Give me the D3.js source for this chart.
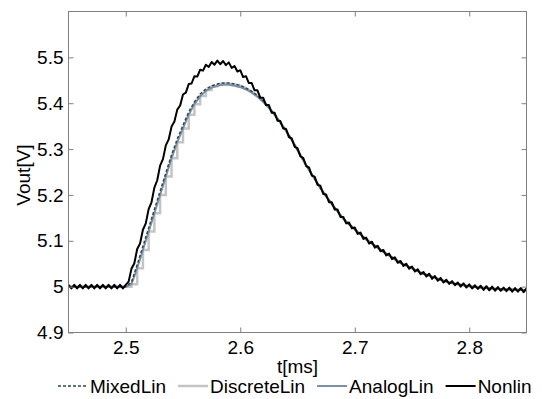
<!DOCTYPE html>
<html>
<head>
<meta charset="utf-8">
<script src="https://cdn.jsdelivr.net/npm/d3@7"></script>
<style>
  html, body { margin: 0; padding: 0; background: #fff; }
  svg text { font-family: "Liberation Sans", Arial, sans-serif; fill: #000; }
</style>
</head>
<body>
<div id="chart"></div>
<script>
// Vout step response, time in ms
const tStart = 2.45;
const linStep = 0.005;     // sampling of the linear models
const nonlinStep = 0.0025; // sampling of the nonlinear model
const stairEnd = 2.58;     // discrete stairs only visible on the rising edge

const xTicks = [2.5, 2.6, 2.7, 2.8];
const xTickLabels = ['2.5', '2.6', '2.7', '2.8'];
const yTicks = [4.9, 5.0, 5.1, 5.2, 5.3, 5.4, 5.5];
const yTickLabels = ['4.9', '5', '5.1', '5.2', '5.3', '5.4', '5.5'];

const seriesNames = ['MixedLin', 'DiscreteLin', 'AnalogLin', 'Nonlin'];

const analogLin = [
  5.0, 5.0, 5.0, 5.0, 5.0, 5.0, 5.0, 5.0, 5.0, 5.0, 5.0,
  5.005, 5.04, 5.08, 5.12, 5.16, 5.2, 5.24, 5.28, 5.315, 5.345,
  5.375, 5.398, 5.415, 5.427, 5.434, 5.438, 5.44, 5.44, 5.438, 5.435,
  5.43, 5.423, 5.414, 5.403, 5.39, 5.375, 5.358, 5.34, 5.32, 5.298,
  5.276, 5.255, 5.235, 5.215, 5.197, 5.18, 5.164, 5.148, 5.136, 5.125,
  5.114, 5.103, 5.094, 5.085, 5.076, 5.068, 5.06, 5.052, 5.046, 5.04,
  5.034, 5.028, 5.024, 5.019, 5.015, 5.011, 5.008, 5.005, 5.003, 5.001,
  4.999, 4.998, 4.997, 4.996, 4.995, 4.994, 4.994, 4.993, 4.993, 4.992
];

const discreteLin = [
  5.0, 5.0, 5.0, 5.0, 5.0, 5.0, 5.0, 5.0, 5.0, 5.0, 5.0,
  5.005, 5.04, 5.08, 5.12, 5.16, 5.2, 5.24, 5.28, 5.315, 5.345,
  5.375, 5.398, 5.416, 5.429, 5.437, 5.441, 5.443, 5.443, 5.441, 5.438,
  5.433, 5.425, 5.415, 5.404, 5.39, 5.375, 5.358, 5.34, 5.32, 5.298,
  5.276, 5.255, 5.235, 5.215, 5.197, 5.18, 5.164, 5.148, 5.136, 5.125,
  5.114, 5.103, 5.094, 5.085, 5.076, 5.068, 5.06, 5.052, 5.046, 5.04,
  5.034, 5.028, 5.024, 5.019, 5.015, 5.011, 5.008, 5.005, 5.003, 5.001,
  4.999, 4.998, 4.997, 4.996, 4.995, 4.994, 4.994, 4.993, 4.993, 4.992
];

const mixedLin = [
  5.0, 5.0, 5.0, 5.0, 5.0, 5.0, 5.0, 5.0, 5.0, 5.0, 5.0,
  5.01, 5.048, 5.088, 5.128, 5.168, 5.208, 5.248, 5.287, 5.322, 5.352,
  5.381, 5.403, 5.42, 5.431, 5.438, 5.442, 5.444, 5.444, 5.442, 5.439,
  5.433, 5.426, 5.417, 5.405, 5.391, 5.376, 5.358, 5.34, 5.32, 5.298,
  5.276, 5.255, 5.235, 5.215, 5.197, 5.18, 5.164, 5.148, 5.136, 5.125,
  5.114, 5.103, 5.094, 5.085, 5.076, 5.068, 5.06, 5.052, 5.046, 5.04,
  5.034, 5.028, 5.024, 5.019, 5.015, 5.011, 5.008, 5.005, 5.003, 5.001,
  4.999, 4.998, 4.997, 4.996, 4.995, 4.994, 4.994, 4.993, 4.993, 4.992
];

const nonlin = [
  5.004, 4.996, 5.004, 4.996, 5.004, 4.996, 5.004, 4.996, 5.004, 4.996,
  5.004, 4.996, 5.004, 4.996, 5.004, 4.996, 5.004, 4.996, 5.004, 4.996,
  5.004, 5.011, 5.039, 5.051, 5.082, 5.094, 5.124, 5.138, 5.169, 5.184,
  5.216, 5.232, 5.264, 5.278, 5.308, 5.321, 5.349, 5.36, 5.386, 5.395,
  5.419, 5.423, 5.442, 5.443, 5.459, 5.458, 5.473, 5.471, 5.484, 5.479,
  5.49, 5.484, 5.493, 5.485, 5.492, 5.483, 5.489, 5.477, 5.481, 5.469,
  5.472, 5.457, 5.459, 5.444, 5.444, 5.428, 5.428, 5.412, 5.412, 5.396,
  5.396, 5.379, 5.379, 5.362, 5.361, 5.345, 5.344, 5.326, 5.323, 5.305,
  5.302, 5.284, 5.281, 5.263, 5.26, 5.242, 5.24, 5.222, 5.22, 5.202,
  5.201, 5.184, 5.184, 5.168, 5.168, 5.152, 5.152, 5.138, 5.14, 5.127,
  5.129, 5.115, 5.118, 5.104, 5.107, 5.094, 5.098, 5.085, 5.089, 5.077,
  5.08, 5.068, 5.072, 5.06, 5.064, 5.052, 5.056, 5.045, 5.05, 5.039,
  5.044, 5.033, 5.038, 5.027, 5.032, 5.022, 5.028, 5.017, 5.023, 5.013,
  5.019, 5.009, 5.015, 5.006, 5.012, 5.003, 5.009, 5.0, 5.007, 4.998,
  5.005, 4.996, 5.003, 4.995, 5.002, 4.993, 5.001, 4.992, 5.0, 4.991,
  4.999, 4.991, 4.998, 4.99, 4.998, 4.989, 4.997, 4.989, 4.997, 4.988,
  4.996
];

const width = 542;
const height = 399;
const plot = { left: 68.5, right: 526.5, top: 11.5, bottom: 332.5 };
const axisColor = '#808080';

const svg = d3.select('#chart').append('svg')
  .attr('width', width)
  .attr('height', height);

const x = d3.scaleLinear().domain([2.45, 2.85]).range([plot.left, plot.right]);
const y = d3.scaleLinear().domain([4.9, 5.6]).range([plot.bottom, plot.top]);

// clip the curves to the axes box
svg.append('clipPath').attr('id', 'clip')
  .append('rect')
  .attr('x', plot.left).attr('y', plot.top)
  .attr('width', plot.right - plot.left)
  .attr('height', plot.bottom - plot.top);

const toPoints = (vals, step) => vals.map((v, i) => [tStart + i * step, v]);

const lineSmooth = d3.line().x(d => x(d[0])).y(d => y(d[1]));
const lineStep = d3.line().x(d => x(d[0])).y(d => y(d[1])).curve(d3.curveStepAfter);

const curves = svg.append('g').attr('clip-path', 'url(#clip)');

// discrete model: zero-order hold on the rising edge, then smooth
const discretePts = toPoints(discreteLin, linStep);
const discreteRise = discretePts.filter(d => d[0] <= stairEnd + 1e-9);
const discreteTail = discretePts.filter(d => d[0] >= stairEnd - 1e-9);

curves.append('path')
  .attr('d', lineStep(discreteRise))
  .attr('fill', 'none')
  .attr('stroke', '#c4c4c4')
  .attr('stroke-width', 2.5);

curves.append('path')
  .attr('d', lineSmooth(discreteTail))
  .attr('fill', 'none')
  .attr('stroke', '#c4c4c4')
  .attr('stroke-width', 2.5);

curves.append('path')
  .attr('d', lineSmooth(toPoints(analogLin, linStep)))
  .attr('fill', 'none')
  .attr('stroke', '#7d8fa3')
  .attr('stroke-width', 2);

curves.append('path')
  .attr('d', lineSmooth(toPoints(mixedLin, linStep)))
  .attr('fill', 'none')
  .attr('stroke', '#2c4a55')
  .attr('stroke-width', 1.5)
  .attr('stroke-dasharray', '3,2');

curves.append('path')
  .attr('d', lineSmooth(toPoints(nonlin, nonlinStep)))
  .attr('fill', 'none')
  .attr('stroke', '#000')
  .attr('stroke-width', 2)
  .attr('stroke-linejoin', 'round');

// axes with inward ticks on all four sides
const fontSize = 19;

const xAxis = d3.axisBottom(x).tickValues(xTicks)
  .tickFormat((d, i) => xTickLabels[i])
  .tickSizeInner(-5).tickSizeOuter(0).tickPadding(8);
const gx = svg.append('g').attr('transform', `translate(0,${plot.bottom})`).call(xAxis);

const yAxis = d3.axisLeft(y).tickValues(yTicks)
  .tickFormat((d, i) => yTickLabels[i])
  .tickSizeInner(-5).tickSizeOuter(0).tickPadding(5);
const gy = svg.append('g').attr('transform', `translate(${plot.left},0)`).call(yAxis);

const gxTop = svg.append('g').attr('transform', `translate(0,${plot.top})`)
  .call(d3.axisTop(x).tickValues(xTicks).tickFormat('').tickSizeInner(-5).tickSizeOuter(0));
const gyRight = svg.append('g').attr('transform', `translate(${plot.right},0)`)
  .call(d3.axisRight(y).tickValues(yTicks).tickFormat('').tickSizeInner(-5).tickSizeOuter(0));

[gx, gy, gxTop, gyRight].forEach(g => {
  g.select('.domain').remove();
  g.selectAll('.tick line').attr('stroke', axisColor);
  g.selectAll('text')
    .style('font-size', fontSize + 'px')
    .style('font-family', '"Liberation Sans", Arial, sans-serif')
    .attr('fill', '#000');
});

svg.append('rect')
  .attr('x', plot.left).attr('y', plot.top)
  .attr('width', plot.right - plot.left)
  .attr('height', plot.bottom - plot.top)
  .attr('fill', 'none')
  .attr('stroke', axisColor)
  .attr('stroke-width', 1);

// axis titles
svg.append('text')
  .attr('x', (plot.left + plot.right) / 2)
  .attr('y', 373)
  .attr('text-anchor', 'middle')
  .style('font-size', fontSize + 'px')
  .text('t[ms]');

svg.append('text')
  .attr('transform', `translate(30,${(plot.top + plot.bottom) / 2 + 3}) rotate(-90)`)
  .attr('text-anchor', 'middle')
  .style('font-size', fontSize + 'px')
  .text('Vout[V]');

// legend along the bottom
const legendStyles = [
  { color: '#2c4a55', width: 1.5, dash: '3,2' },
  { color: '#c4c4c4', width: 2.5, dash: null },
  { color: '#7d8fa3', width: 2, dash: null },
  { color: '#000', width: 2, dash: null }
];

const legend = svg.append('g');
let lx = 58;
const legendY = 393;
seriesNames.forEach((name, i) => {
  const st = legendStyles[i];
  legend.append('line')
    .attr('x1', lx).attr('x2', lx + 30)
    .attr('y1', legendY - 7).attr('y2', legendY - 7)
    .attr('stroke', st.color)
    .attr('stroke-width', st.width)
    .attr('stroke-dasharray', st.dash);
  const t = legend.append('text')
    .attr('x', lx + 32)
    .attr('y', legendY)
    .style('font-size', fontSize + 'px')
    .text(name);
  lx += 32 + t.node().getComputedTextLength() + 12;
});
</script>
</body>
</html>
